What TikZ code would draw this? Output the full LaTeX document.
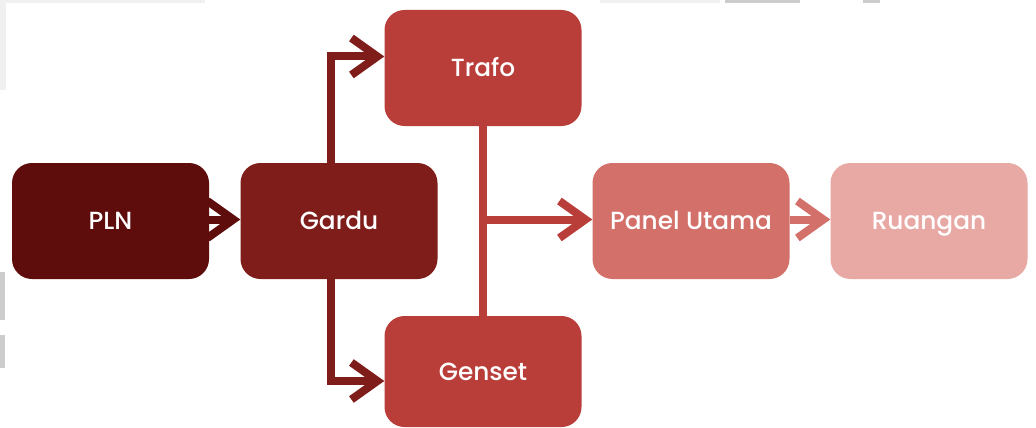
\documentclass[tikz,border=0pt]{standalone}
\usepackage{fontspec}
\setmainfont{Poppins Medium}
\usetikzlibrary{arrows.meta}
\definecolor{cPLN}{HTML}{5E0C0C}
\definecolor{cGardu}{HTML}{7E1D19}
\definecolor{cTrafo}{HTML}{B93E39}
\definecolor{cPanel}{HTML}{D3706A}
\definecolor{cRuang}{HTML}{E8A9A5}
\definecolor{cArt}{HTML}{CCCCCC}
\definecolor{cArtL}{HTML}{F0F0F0}
\tikzset{
  box/.style={rounded corners=20pt, minimum width=197pt, minimum height=116pt,
    inner sep=0pt, text=white, font=\fontsize{24.8}{29}\selectfont,
    text height=17pt, text depth=0pt},
  conn/.style={line width=8pt, -{Straight Barb[length=26pt,width=37pt,line width=8pt,sharp]}},
  bus/.style={line width=8pt}
}
\begin{document}
\begin{tikzpicture}[x=1pt,y=-1pt]
\useasboundingbox (0,0) rectangle (1036,428);
\fill[white] (0,0) rectangle (1036,428);
% faint artefacts at the edges
\fill[cArtL] (0,0) rectangle (205,3);
\fill[cArtL] (0,3) rectangle (6,90);
\fill[cArtL] (600,0) rectangle (720,3);
\fill[cArt] (725,0) rectangle (800,3);
\fill[cArt] (863,0) rectangle (880,3);
\fill[cArt] (0,272) rectangle (5,320);
\fill[cArt] (0,335) rectangle (5,368);
\begin{scope}
\clip (0,0) rectangle (1036,428);
\node[box, fill=cPLN] (pln) at (110.5,221) {PLN};
\node[box, fill=cGardu] (gardu) at (339,221) {Gardu};
\node[box, fill=cTrafo] (trafo) at (483,68) {Trafo};
\node[box, fill=cTrafo, minimum height=111pt] (genset) at (483,371.5) {Genset};
\node[box, fill=cPanel] (panel) at (691,221) {Panel Utama};
\node[box, fill=cRuang] (ruang) at (929,221) {Ruangan};

\draw[conn, cPLN] (pln.east |- 0,219.5) -- (gardu.west |- 0,219.5);
\coordinate (gt) at (331,56.5);
\coordinate (gb) at (331,381);
\draw[conn, cGardu] (gardu.north -| gt) -- (gt) -- (trafo.west |- gt);
\draw[conn, cGardu] (gardu.south -| gb) -- (gb) -- (genset.west |- gb);
\draw[bus, cTrafo] (trafo.south) -- (genset.north);
\coordinate (bj) at (483,219.5);
\draw[conn, cTrafo] (bj) -- (panel.west |- bj);
\draw[conn, cPanel] (panel.east |- 0,219.5) -- (ruang.west |- 0,219.5);
\end{scope}
\end{tikzpicture}
\end{document}
